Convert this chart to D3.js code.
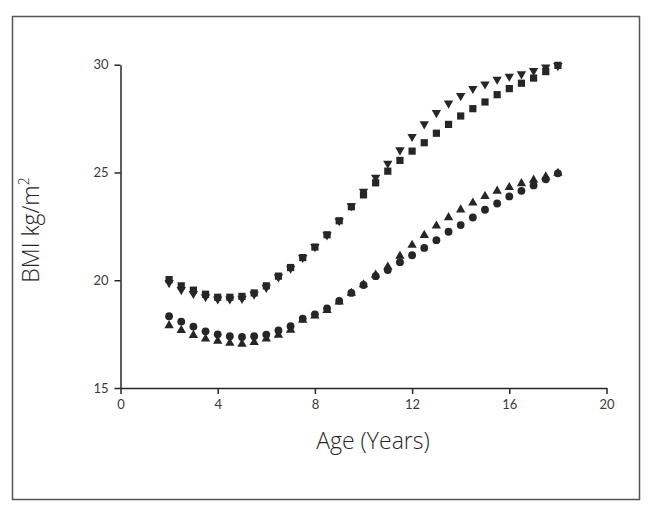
<!DOCTYPE html>
<html>
<head>
<meta charset="utf-8">
<script src="https://cdn.jsdelivr.net/npm/d3@7"></script>
<style>
  html, body { margin: 0; padding: 0; background: #fff; }
  svg { display: block; }
  text { font-family: "Open Sans", Lato, sans-serif; }
</style>
</head>
<body>
<svg id="chart" width="654" height="516"></svg>
<script>
// Ages (years)
const ages = [2,2.5,3,3.5,4,4.5,5,5.5,6,6.5,7,7.5,8,8.5,9,9.5,10,10.5,11,11.5,12,12.5,13,13.5,14,14.5,15,15.5,16,16.5,17,17.5,18];

// Upper group: squares
const squareValues = [20.03,19.74,19.54,19.35,19.21,19.21,19.25,19.41,19.74,20.19,20.59,21.05,21.54,22.11,22.76,23.41,23.96,24.52,25.06,25.56,25.99,26.38,26.82,27.23,27.62,27.96,28.27,28.61,28.89,29.14,29.38,29.68,29.97];
// Upper group: downward triangles
const downTriValues = [19.88,19.56,19.38,19.23,19.12,19.12,19.15,19.35,19.66,20.15,20.55,21.05,21.55,22.1,22.75,23.45,24.12,24.77,25.42,26.04,26.66,27.25,27.77,28.21,28.56,28.89,29.1,29.32,29.46,29.57,29.72,29.88,29.95];
// Lower group: circles
const circleValues = [18.33,18.08,17.85,17.63,17.49,17.4,17.37,17.4,17.48,17.67,17.87,18.22,18.42,18.69,19.04,19.41,19.78,20.19,20.47,20.84,21.16,21.5,21.86,22.25,22.56,22.91,23.27,23.56,23.89,24.15,24.4,24.68,24.96];
// Lower group: upward triangles
const upTriValues = [17.9,17.68,17.45,17.28,17.18,17.08,17.04,17.12,17.28,17.46,17.69,18.15,18.35,18.6,19.0,19.4,19.8,20.25,20.62,21.12,21.63,22.09,22.52,22.91,23.27,23.59,23.9,24.14,24.31,24.49,24.65,24.8,24.97];

const xTicks = [0,4,8,12,16,20];
const yTicks = [15,20,25,30];

const svg = d3.select("#chart");
const ink = "#262626";

// outer frame
svg.append("rect")
  .attr("x", 12.5).attr("y", 16.5)
  .attr("width", 627).attr("height", 483)
  .attr("fill", "none").attr("stroke", "#555").attr("stroke-width", 1.5);

const x = d3.scaleLinear().domain([0, 20]).range([120.5, 606.5]);
const y = d3.scaleLinear().domain([15, 30]).range([388, 64.7]);

// axes
const xAxis = d3.axisBottom(x).tickValues(xTicks).tickSize(6).tickPadding(6).tickSizeOuter(0);
const yAxis = d3.axisLeft(y).tickValues(yTicks).tickSize(6).tickPadding(6).tickSizeOuter(0);

const gx = svg.append("g").attr("transform", `translate(0,${y(15)})`).call(xAxis);
const gy = svg.append("g").attr("transform", `translate(${x(0)},0)`).call(yAxis);

[gx, gy].forEach(g => {
  g.select(".domain").attr("stroke", ink).attr("stroke-width", 1.5);
  g.selectAll(".tick line").attr("stroke", ink).attr("stroke-width", 1.5);
  g.selectAll(".tick text")
    .attr("fill", "#3a3a3a")
    .style("font-size", "13px")
    .style("font-weight", "400")
    .style("font-family", "Lato, sans-serif");
});

// axis titles
svg.append("text")
  .attr("x", 373)
  .attr("y", 449)
  .attr("text-anchor", "middle")
  .attr("fill", ink)
  .style("font-size", "23px")
  .style("font-weight", "300")
  .text("Age (Years)");

const yt = svg.append("text")
  .attr("transform", `translate(39,230) rotate(-90)`)
  .attr("text-anchor", "middle")
  .attr("fill", ink)
  .style("font-size", "23px")
  .style("font-weight", "300");
yt.append("tspan").text("BMI kg/m");
yt.append("tspan").attr("dy", -10).style("font-size", "14px").text("2");

// markers
function plot(values, type, size, rotate) {
  const sym = d3.symbol().type(type).size(size);
  svg.append("g").selectAll("path")
    .data(ages.map((a, i) => [a, values[i]]))
    .join("path")
    .attr("d", sym)
    .attr("fill", ink)
    .attr("transform", d => `translate(${x(d[0])},${y(d[1])})` + (rotate ? " rotate(180)" : ""));
}

plot(downTriValues, d3.symbolTriangle, 38, true);
plot(upTriValues, d3.symbolTriangle, 38, false);
plot(squareValues, d3.symbolSquare, 52, false);
plot(circleValues, d3.symbolCircle, 48, false);
</script>
</body>
</html>
